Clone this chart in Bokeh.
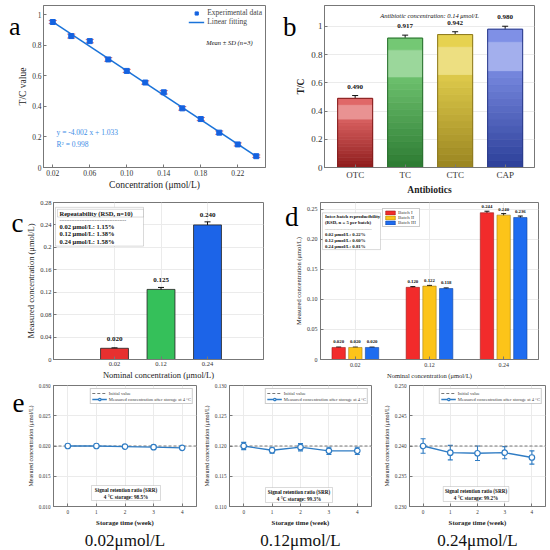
from bokeh.plotting import figure
from bokeh.models import (ColumnDataSource, Whisker, TeeHead, Label, BoxAnnotation,
                          Legend, LegendItem, FixedTicker, Range1d, Title, LinearAxis)
from bokeh.layouts import column, row
from bokeh.embed import file_html
from bokeh.resources import INLINE
from bokeh.core.properties import value

# ---------------- data ----------------
a_conc = [0.02, 0.04, 0.06, 0.08, 0.10, 0.12, 0.14, 0.16, 0.18, 0.20, 0.22, 0.24]
a_tc = [0.952, 0.860, 0.827, 0.707, 0.632, 0.556, 0.492, 0.387, 0.317, 0.228, 0.151, 0.074]
a_sd = [0.010, 0.013, 0.011, 0.012, 0.010, 0.011, 0.011, 0.012, 0.010, 0.011, 0.010, 0.008]
a_slope = -4.002
a_intercept = 1.033
a_r2 = 0.998
a_xticks = [0.02, 0.06, 0.10, 0.14, 0.18, 0.22]
a_xtick_labels = ["0.02", "0.06", "0.10", "0.14", "0.18", "0.22"]
a_yticks = [0, 0.2, 0.4, 0.6, 0.8, 1.0]
a_ytick_labels = ["0", "0.2", "0.4", "0.6", "0.8", "1"]

b_names = ["OTC", "TC", "CTC", "CAP"]
b_vals = [0.490, 0.917, 0.942, 0.980]
b_sd = [0.020, 0.021, 0.020, 0.021]
b_top_colors = ["#e06868", "#74c874", "#e6d250", "#7f90e6"]
b_bot_colors = ["#8e1c1c", "#2c7a32", "#9a8420", "#2c3f98"]

c_names = ["0.02", "0.12", "0.24"]
c_vals = [0.020, 0.125, 0.240]
c_sd = [0.0008, 0.0035, 0.0055]
c_rsd = ["1.15%", "1.38%", "1.58%"]
c_colors = ["#e8302f", "#35c05a", "#1c64e8"]
c_yticks = [0, 0.04, 0.08, 0.12, 0.16, 0.20, 0.24, 0.28]
c_ytick_labels = ["0", "0.04", "0.08", "0.12", "0.16", "0.2", "0.24", "0.28"]

d_batches = ["Batch I", "Batch II", "Batch III"]
d_batch1 = [0.020, 0.120, 0.244]
d_batch2 = [0.020, 0.122, 0.240]
d_batch3 = [0.020, 0.118, 0.236]
d_sd1 = [0.0007, 0.0012, 0.0025]
d_sd2 = [0.0006, 0.0012, 0.0025]
d_sd3 = [0.0006, 0.0010, 0.0025]
d_rsd = ["0.22%", "0.60%", "0.81%"]
d_colors = ["#f22b2b", "#fcc419", "#1e6cf0"]
d_yticks = [0, 0.05, 0.10, 0.15, 0.20, 0.25]
d_ytick_labels = ["0", "0.05", "0.10", "0.15", "0.20", "0.25"]

e_weeks = [0, 1, 2, 3, 4]
e1_vals = [0.0200, 0.0200, 0.0199, 0.0198, 0.0197]
e1_sd = [0.00012, 0.0001, 0.0001, 0.0001, 0.0001]
e2_vals = [0.1200, 0.1193, 0.1198, 0.1192, 0.1192]
e2_sd = [0.0006, 0.0005, 0.0006, 0.0006, 0.0006]
e3_vals = [0.2400, 0.2389, 0.2388, 0.2389, 0.2381]
e3_sd = [0.0012, 0.0012, 0.0012, 0.0010, 0.0011]
e_initial = [0.020, 0.120, 0.240]
e_srr = ["98.5%", "99.3%", "99.2%"]
e_titles = ["0.02\u03bcmol/L", "0.12\u03bcmol/L", "0.24\u03bcmol/L"]
e_yranges = [(0.010, 0.030), (0.110, 0.130), (0.230, 0.250)]

panel_letters = ["a", "b", "c", "d", "e"]

# ---------------- helpers ----------------
SERIF = "Liberation Serif"


def fs(v):
    return f"{v:.1f}px"


def make(box, frame, xr, yr, grid=True):
    bx0, by0, bx1, by1 = box
    fx0, fy0, fx1, fy1 = frame
    p = figure(width=bx1 - bx0, height=by1 - by0,
               x_range=Range1d(*xr), y_range=Range1d(*yr),
               output_backend="svg", toolbar_location=None, title=None,
               min_border_left=fx0 - bx0, min_border_right=bx1 - fx1,
               min_border_top=fy0 - by0, min_border_bottom=by1 - fy1)
    p.outline_line_color = "#777777"
    p.border_fill_color = "white"
    p.background_fill_color = "white"
    gc = "#ebebeb" if grid else None
    p.xgrid.grid_line_color = gc
    p.ygrid.grid_line_color = gc

    def conv(rx, ry):
        return (xr[0] + (rx - fx0) / (fx1 - fx0) * (xr[1] - xr[0]),
                yr[1] - (ry - fy0) / (fy1 - fy0) * (yr[1] - yr[0]))
    return p, conv


def style_axes(p, tick_size, label_size, bold=False, tick_std=2, label_std=3):
    for ax in p.axis:
        ax.major_label_text_font = SERIF
        ax.major_label_text_font_size = fs(tick_size)
        ax.major_label_text_color = "#333333"
        ax.axis_label_text_font = SERIF
        ax.axis_label_text_font_size = fs(label_size)
        ax.axis_label_text_font_style = "bold" if bold else "normal"
        ax.axis_label_text_color = "#222222"
        ax.major_tick_in = 3
        ax.major_tick_out = 0
        ax.minor_tick_in = 0
        ax.minor_tick_out = 0
        ax.minor_tick_line_color = None
        ax.axis_line_color = "#777777"
        ax.major_tick_line_color = "#777777"
        ax.major_label_standoff = tick_std
        ax.axis_label_standoff = label_std


def letter(p, conv, ry, text, standoff=0, size=27):
    """Panel letter drawn as the single horizontal tick label of an extra left axis."""
    y = conv(0, ry)[1]
    ax = LinearAxis(ticker=FixedTicker(ticks=[y], minor_ticks=[]),
                    major_label_overrides={y: text},
                    axis_line_color=None, major_tick_line_color=None,
                    minor_tick_line_color=None, major_tick_in=0, major_tick_out=0,
                    minor_tick_in=0, minor_tick_out=0, major_label_standoff=standoff,
                    axis_label_standoff=0,
                    major_label_text_font=SERIF, major_label_text_font_size=fs(size),
                    major_label_text_color="#000000", major_label_orientation="horizontal")
    p.add_layout(ax, "left")


def txt(p, conv, rx, ry, text, size, align="left", baseline="middle",
        style="normal", color="#111111"):
    x, y = conv(rx, ry)
    p.add_layout(Label(x=x, y=y, text=text, text_font=SERIF, text_font_size=fs(size),
                       text_font_style=style, text_color=color, text_align=align,
                       text_baseline=baseline))


def rbox(p, conv, rx0, ry0, rx1, ry1, lc="#666666", lw=0.8):
    x0, y0 = conv(rx0, ry1)
    x1, y1 = conv(rx1, ry0)
    p.add_layout(BoxAnnotation(left=x0, right=x1, bottom=y0, top=y1, fill_color="white",
                               fill_alpha=1.0, line_color=lc, line_width=lw))


def whisk(p, src, base, lo, hi, color, size, lw=1.0):
    p.add_layout(Whisker(source=src, base=base, lower=lo, upper=hi, line_color=color,
                         line_width=lw,
                         upper_head=TeeHead(size=size, line_color=color, line_width=lw),
                         lower_head=TeeHead(size=size, line_color=color, line_width=lw)))


def mix(c1, c2, t):
    a = [int(c1[i:i + 2], 16) for i in (1, 3, 5)]
    b = [int(c2[i:i + 2], 16) for i in (1, 3, 5)]
    return "#%02x%02x%02x" % tuple(int(round(a[k] + (b[k] - a[k]) * t)) for k in range(3))


# ---------------- panel a ----------------
pa, ca = make((0, 0, 275, 197), (43, 5, 265, 167), (0.01, 0.25), (0, 1.06), grid=False)
src_a = ColumnDataSource(dict(x=a_conc, y=a_tc,
                              lo=[v - s for v, s in zip(a_tc, a_sd)],
                              hi=[v + s for v, s in zip(a_tc, a_sd)]))
whisk(pa, src_a, "x", "lo", "hi", "#e56b6b", 8, 1.0)
fit_x = [a_conc[0], a_conc[-1]]
fit_y = [a_slope * x + a_intercept for x in fit_x]
ln_a = pa.line(fit_x, fit_y, line_color="#1a73d9", line_width=1.5)
sc_a = pa.scatter("x", "y", source=src_a, marker="square", size=5, color="#1462e0")
leg_a = Legend(items=[LegendItem(label="Experimental data", renderers=[sc_a]),
                      LegendItem(label="Linear fitting", renderers=[ln_a])],
               location="top_right", margin=3, padding=2, spacing=0,
               label_text_font=SERIF, label_text_font_size=fs(7.5), label_height=8,
               glyph_height=8, glyph_width=16, label_standoff=3,
               border_line_color=None, background_fill_alpha=0)
pa.add_layout(leg_a)
pa.xaxis.ticker = FixedTicker(ticks=a_xticks)
pa.xaxis.major_label_overrides = {t: l for t, l in zip(a_xticks, a_xtick_labels)}
pa.yaxis.ticker = FixedTicker(ticks=a_yticks)
pa.yaxis.major_label_overrides = {t: l for t, l in zip(a_yticks, a_ytick_labels)}
pa.xaxis.axis_label = "Concentration (\u03bcmol/L)"
pa.yaxis.axis_label = "T/C value"
style_axes(pa, 7.5, 9.5, tick_std=2, label_std=1)
txt(pa, ca, 229, 42, "Mean \u00b1 SD (n=3)", 6.5, align="center", style="italic")
txt(pa, ca, 56, 132, f"y = {a_slope:.3f} x + {a_intercept:.3f}", 7.5, color="#3d8ee6")
txt(pa, ca, 56, 144, f"R\u00b2 = {a_r2:.3f}", 7.5, color="#3d8ee6")
letter(pa, ca, 25.5, panel_letters[0], -5, 26)

# ---------------- panel b ----------------
pb, cb = make((275, 0, 550, 197), (324, 5, 534, 173), (0.387, 4.587), (0, 1.148))
pb.xgrid.grid_line_color = None
b_pos = list(range(1, len(b_names) + 1))
seg = dict(x=[], bottom=[], top=[], color=[])
nsl = 14
for i, v in enumerate(b_vals):
    tc, bc = b_top_colors[i], b_bot_colors[i]
    for k in range(nsl):
        f0, f1 = 0.70 * k / nsl, 0.70 * (k + 1) / nsl
        seg["x"].append(b_pos[i]); seg["bottom"].append(v * f0); seg["top"].append(v * f1)
        seg["color"].append(mix(bc, tc, (k + 0.5) / nsl * 0.9))
    seg["x"].append(b_pos[i]); seg["bottom"].append(v * 0.70); seg["top"].append(v * 0.91)
    seg["color"].append(mix(tc, "#ffffff", 0.28))
    seg["x"].append(b_pos[i]); seg["bottom"].append(v * 0.91); seg["top"].append(v)
    seg["color"].append(tc)
pb.vbar(x="x", bottom="bottom", top="top", width=0.7, fill_color="color",
        line_color="color", line_width=0.8, source=ColumnDataSource(seg))
pb.vbar(x=b_pos, top=b_vals, width=0.7, fill_color=None,
        line_color=[mix(c, "#000000", 0.1) for c in b_bot_colors], line_width=1)
src_b = ColumnDataSource(dict(x=b_pos, y=b_vals,
                              lo=[v - s for v, s in zip(b_vals, b_sd)],
                              hi=[v + s for v, s in zip(b_vals, b_sd)],
                              ty=[v + 0.083 for v in b_vals],
                              t=[f"{v:.3f}" for v in b_vals]))
whisk(pb, src_b, "x", "lo", "hi", "#111111", 6, 1.0)
pb.text(x="x", y="ty", text="t", source=src_b, text_font=value(SERIF),
        text_font_size=fs(7), text_font_style="bold", text_align="center",
        text_baseline="middle", text_color="#111111")
pb.xaxis.ticker = FixedTicker(ticks=b_pos)
pb.xaxis.major_label_overrides = {p_: n for p_, n in zip(b_pos, b_names)}
pb.yaxis.ticker = FixedTicker(ticks=a_yticks)
pb.yaxis.major_label_overrides = {t: l for t, l in zip(a_yticks, a_ytick_labels)}
pb.xaxis.axis_label = "Antibiotics"
pb.yaxis.axis_label = "T/C"
style_axes(pb, 9, 9.5, bold=True, tick_std=2, label_std=2)
for ax in pb.axis:
    ax.major_label_text_font_style = "normal"
txt(pb, cb, 429, 15, "Antibiotic concentration: 0.14 \u03bcmol/L", 6.5, align="center", style="italic")
letter(pb, cb, 27.5, panel_letters[1], -3)

# ---------------- panel c ----------------
pc, cc = make((0, 197, 275, 382), (53, 198, 263, 360), (-0.312, 4.204), (0, 0.28))
c_pos = list(range(1, len(c_names) + 1))
src_c = ColumnDataSource(dict(x=c_pos, y=c_vals, color=c_colors,
                              lo=[v - s for v, s in zip(c_vals, c_sd)],
                              hi=[v + s for v, s in zip(c_vals, c_sd)],
                              ty=[v + 0.017 for v in c_vals],
                              t=[f"{v:.3f}" for v in c_vals]))
pc.vbar(x="x", top="y", width=0.6, fill_color="color", line_color="#222222",
        line_width=0.8, source=src_c)
whisk(pc, src_c, "x", "lo", "hi", "#111111", 6, 1.0)
pc.text(x="x", y="ty", text="t", source=src_c, text_font=value(SERIF),
        text_font_size=fs(7), text_font_style="bold", text_align="center",
        text_baseline="middle", text_color="#111111")
pc.xaxis.ticker = FixedTicker(ticks=c_pos)
pc.xaxis.major_label_overrides = {p_: n for p_, n in zip(c_pos, c_names)}
pc.yaxis.ticker = FixedTicker(ticks=c_yticks)
pc.yaxis.major_label_overrides = {t: l for t, l in zip(c_yticks, c_ytick_labels)}
pc.xaxis.axis_label = "Nominal concentration (\u03bcmol/L)"
pc.yaxis.axis_label = "Measured concentration (\u03bcmol/L)"
style_axes(pc, 6.5, 8.5, tick_std=2, label_std=1)
rbox(pc, cc, 55, 203, 143, 243)
rbox(pc, cc, 57, 205, 143, 213)
txt(pc, cc, 59, 209, "Repeatability (RSD, n=10)", 6.5, style="bold")
txt(pc, cc, 59, 216, "-" * 40, 5, style="bold")
for k in range(len(c_names)):
    txt(pc, cc, 59, 223 + 7.5 * k, f"{c_names[k]} \u03bcmol/L: {c_rsd[k]}", 6.5, style="bold")
letter(pc, cc, 219, panel_letters[2], 0)

# ---------------- panel d ----------------
pd_, cd = make((275, 197, 550, 382), (320, 202, 538, 362), (0.53, 3.47), (0, 0.261))
d_pos = list(range(1, len(c_names) + 1))
d_series = [d_batch1, d_batch2, d_batch3]
d_sds = [d_sd1, d_sd2, d_sd3]
d_offsets = [-0.225, 0.0, 0.225]
d_items = []
for j in range(3):
    xs = [p_ + d_offsets[j] for p_ in d_pos]
    vals = d_series[j]
    sds = d_sds[j]
    src = ColumnDataSource(dict(x=xs, y=vals,
                                lo=[v - s for v, s in zip(vals, sds)],
                                hi=[v + s for v, s in zip(vals, sds)],
                                ty=[v + 0.010 for v in vals],
                                t=[f"{v:.3f}" for v in vals]))
    r = pd_.vbar(x="x", top="y", width=0.18, fill_color=d_colors[j],
                 line_color=mix(d_colors[j], "#000000", 0.35), line_width=0.6, source=src)
    d_items.append(LegendItem(label=d_batches[j], renderers=[r]))
    whisk(pd_, src, "x", "lo", "hi", "#111111", 5, 1.0)
    pd_.text(x="x", y="ty", text="t", source=src, text_font=value(SERIF),
             text_font_size=fs(4.8), text_font_style="bold", text_align="center",
             text_baseline="middle", text_color="#111111")
leg_d = Legend(items=d_items, location=(62, 362 - 230), margin=0, padding=1, spacing=0,
               label_text_font=SERIF, label_text_font_size=fs(5), label_height=5,
               glyph_height=5, glyph_width=12, label_standoff=2,
               border_line_color="#999999", border_line_width=0.6, background_fill_alpha=1)
pd_.add_layout(leg_d)
pd_.xaxis.ticker = FixedTicker(ticks=d_pos)
pd_.xaxis.major_label_overrides = {p_: n for p_, n in zip(d_pos, c_names)}
pd_.yaxis.ticker = FixedTicker(ticks=d_yticks)
pd_.yaxis.major_label_overrides = {t: l for t, l in zip(d_yticks, d_ytick_labels)}
pd_.xaxis.axis_label = "Nominal concentration (\u03bcmol/L)"
pd_.yaxis.axis_label = "Measured concentration (\u03bcmol/L)"
style_axes(pd_, 6, 6.5, tick_std=3, label_std=2)
rbox(pd_, cd, 322, 212.5, 380, 250)
txt(pd_, cd, 324.5, 216.5, "Inter-batch reproducibility", 4.8, style="bold")
txt(pd_, cd, 324.5, 222.5, "(RSD, n = 5 per batch)", 4.8, style="bold")
txt(pd_, cd, 324.5, 228.5, "-" * 40, 3.5, style="bold", color="#777777")
for k in range(len(c_names)):
    txt(pd_, cd, 324.5, 235 + 5.8 * k, f"{c_names[k]} \u03bcmol/L: {d_rsd[k]}", 4.8, style="bold")
letter(pd_, cd, 216.5, panel_letters[3], -7)

# ---------------- panel e ----------------
e_boxes = [(0, 382, 200, 550), (200, 382, 380, 550), (380, 382, 550, 550)]
e_frames = [(53, 385, 196, 506), (229, 385, 371, 506), (404, 385, 545, 506)]
e_srr_boxes = [(91, 485, 160, 500), (265, 487, 332, 502), (439, 486, 507, 501)]
e_vals = [e1_vals, e2_vals, e3_vals]
e_sds = [e1_sd, e2_sd, e3_sd]
e_xr = (-0.5, 4.5)
e_blue = "#2f7cc4"
e_figs = []
for i in range(3):
    p, cv = make(e_boxes[i], e_frames[i], e_xr, e_yranges[i])
    init_r = p.line(list(e_xr), [e_initial[i], e_initial[i]], line_color="#777777",
                    line_width=1, line_dash="3 2")
    src = ColumnDataSource(dict(x=e_weeks, y=e_vals[i],
                                lo=[v - s for v, s in zip(e_vals[i], e_sds[i])],
                                hi=[v + s for v, s in zip(e_vals[i], e_sds[i])]))
    whisk(p, src, "x", "lo", "hi", e_blue, 5, 1.1)
    l_r = p.line("x", "y", source=src, line_color=e_blue, line_width=1.3)
    m_r = p.scatter("x", "y", source=src, marker="circle", size=5.5, fill_color="white",
                    line_color=e_blue, line_width=1.2)
    leg = Legend(items=[LegendItem(label="Initial value", renderers=[init_r]),
                        LegendItem(label="Measured concentration after storage at 4 \u00b0C",
                                   renderers=[l_r, m_r])],
                 location="top_right", margin=3, padding=1, spacing=0,
                 label_text_font=SERIF, label_text_font_size=fs(4.6), label_height=6,
                 glyph_height=6, glyph_width=15, label_standoff=2,
                 border_line_color="#999999", border_line_width=0.6, background_fill_alpha=1)
    p.add_layout(leg)
    lo_, hi_ = e_yranges[i]
    yt = [round(lo_ + k * 0.005, 3) for k in range(5)]
    p.yaxis.ticker = FixedTicker(ticks=yt)
    p.yaxis.major_label_overrides = {t: f"{t:.3f}" for t in yt}
    p.xaxis.ticker = FixedTicker(ticks=e_weeks)
    p.xaxis.axis_label = "Storage time (week)"
    p.yaxis.axis_label = "Measured concentration (\u03bcmol/L)"
    style_axes(p, 5.2, 6, tick_std=3, label_std=2)
    p.xaxis.axis_label_text_font_style = "bold"
    p.xaxis.axis_label_text_font_size = fs(6.8)
    bx0, by0, bx1, by1 = e_srr_boxes[i]
    rbox(p, cv, bx0, by0, bx1, by1)
    txt(p, cv, (bx0 + bx1) / 2, by0 + 4.5, "Signal retention ratio (SRR)", 5.2,
        align="center", style="bold")
    txt(p, cv, (bx0 + bx1) / 2, by0 + 11, f"4 \u00b0C storage: {e_srr[i]}", 5.2,
        align="center", style="bold")
    p.add_layout(Title(text=e_titles[i], align="center", text_font=SERIF,
                       text_font_size=fs(17), text_font_style="normal",
                       text_color="#111111", standoff=1), "below")
    if i == 0:
        letter(p, cv, 402, panel_letters[4], 0)
    e_figs.append(p)

layout = column(row(pa, pb), row(pc, pd_), row(*e_figs))
open("out.html", "w").write(file_html(layout, INLINE))
